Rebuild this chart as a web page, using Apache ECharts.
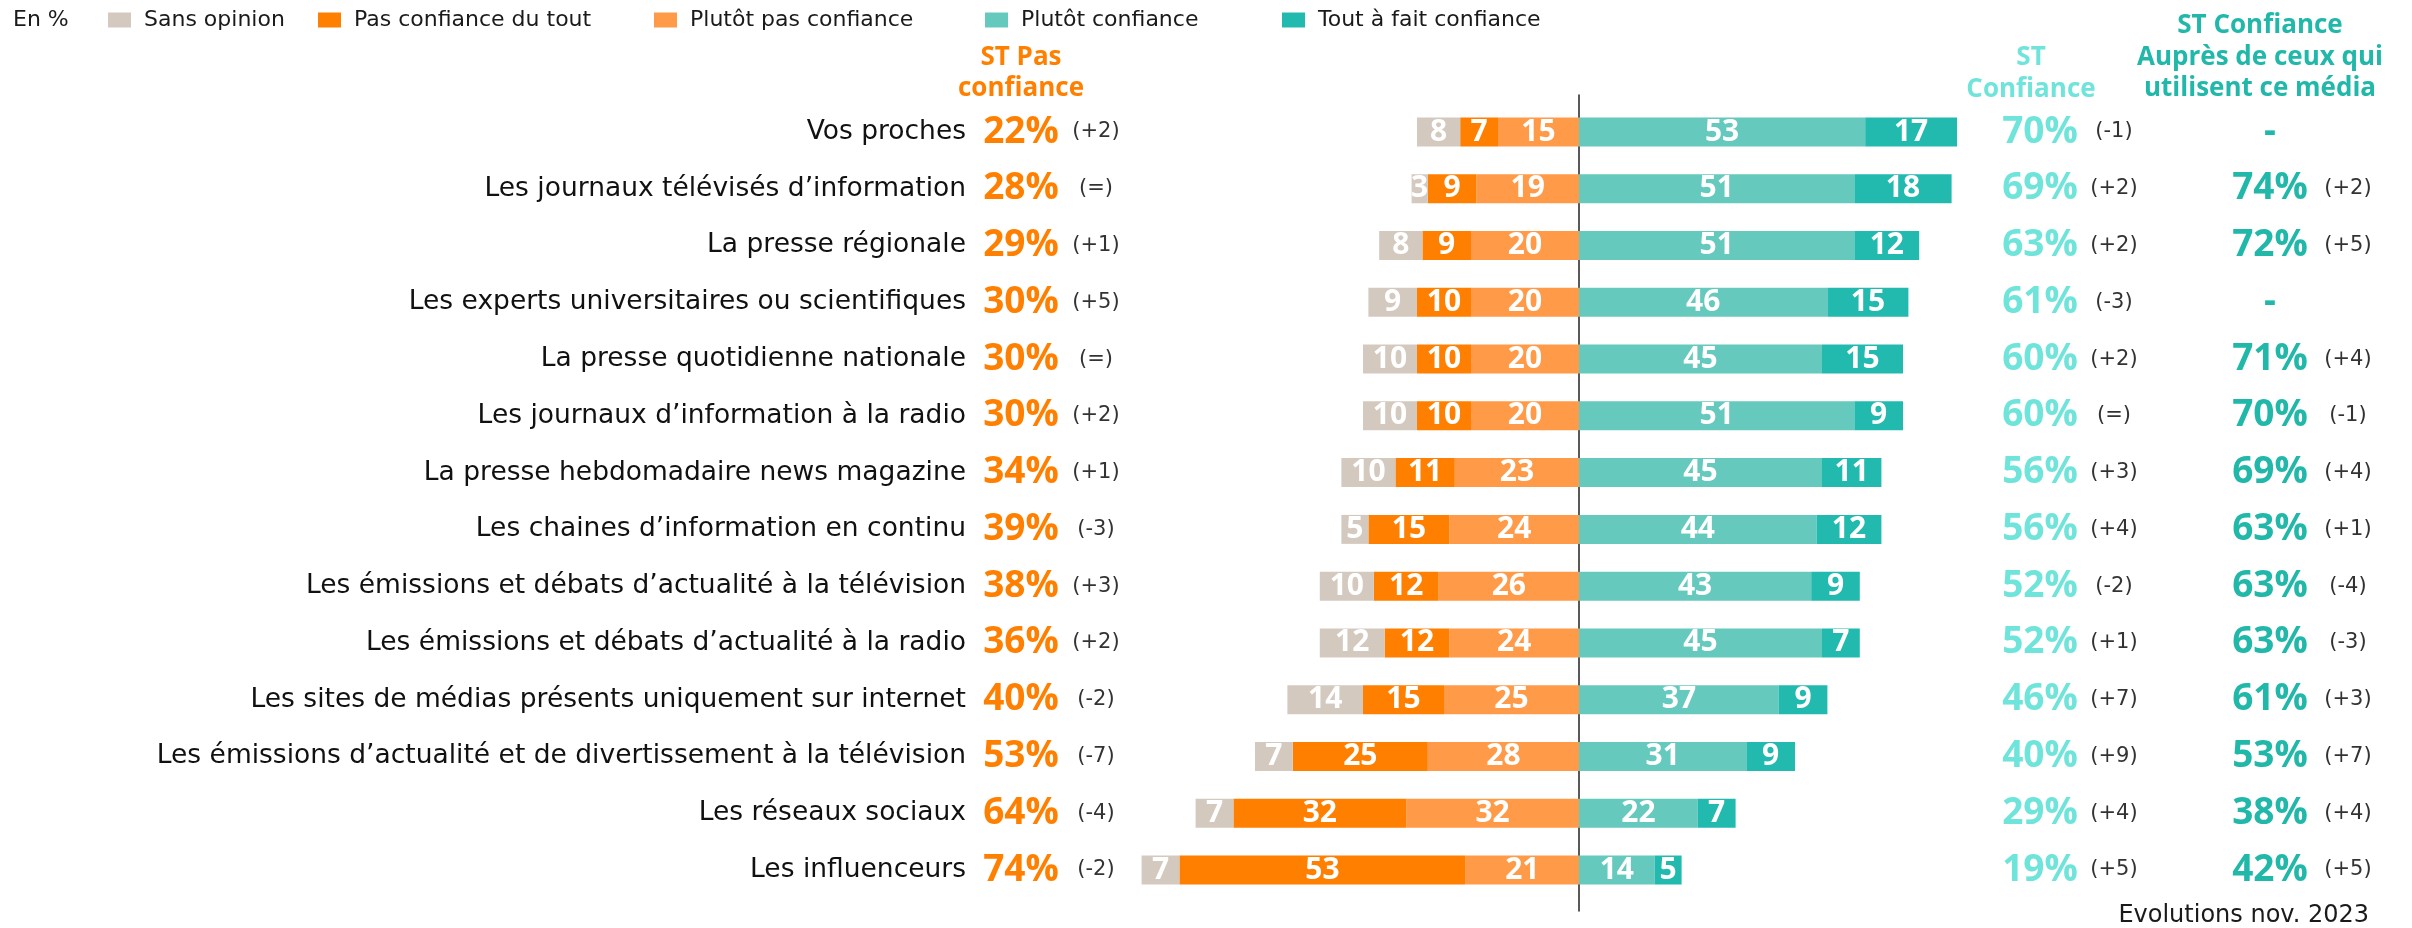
<!DOCTYPE html>
<html>
<head>
<meta charset="utf-8">
<script src="https://cdn.jsdelivr.net/npm/echarts@6/dist/echarts.min.js"></script>
<style>
html,body{margin:0;padding:0;background:#fff;}
#chart{width:2412px;height:928px;}
</style>
</head>
<body>
<div id="chart"></div>
<script>
const categories = [
  "Vos proches",
  "Les journaux télévisés d’information",
  "La presse régionale",
  "Les experts universitaires ou scientifiques",
  "La presse quotidienne nationale",
  "Les journaux d’information à la radio",
  "La presse hebdomadaire news magazine",
  "Les chaines d’information en continu",
  "Les émissions et débats d’actualité à la télévision",
  "Les émissions et débats d’actualité à la radio",
  "Les sites de médias présents uniquement sur internet",
  "Les émissions d’actualité et de divertissement à la télévision",
  "Les réseaux sociaux",
  "Les influenceurs"
];
const sansOpinion = [8, 3, 8, 9, 10, 10, 10, 5, 10, 12, 14, 7, 7, 7];
const pasDuTout   = [7, 9, 9, 10, 10, 10, 11, 15, 12, 12, 15, 25, 32, 53];
const plutotPas   = [15, 19, 20, 20, 20, 20, 23, 24, 26, 24, 25, 28, 32, 21];
const plutotConf  = [53, 51, 51, 46, 45, 51, 45, 44, 43, 45, 37, 31, 22, 14];
const toutAFait   = [17, 18, 12, 15, 15, 9, 11, 12, 9, 7, 9, 9, 7, 5];
const stPas       = [22, 28, 29, 30, 30, 30, 34, 39, 38, 36, 40, 53, 64, 74];
const stPasEvol   = ["(+2)", "(=)", "(+1)", "(+5)", "(=)", "(+2)", "(+1)", "(-3)", "(+3)", "(+2)", "(-2)", "(-7)", "(-4)", "(-2)"];
const stConf      = [70, 69, 63, 61, 60, 60, 56, 56, 52, 52, 46, 40, 29, 19];
const stConfEvol  = ["(-1)", "(+2)", "(+2)", "(-3)", "(+2)", "(=)", "(+3)", "(+4)", "(-2)", "(+1)", "(+7)", "(+9)", "(+4)", "(+5)"];
const stUsers     = [null, 74, 72, null, 71, 70, 69, 63, 63, 63, 61, 53, 38, 42];
const stUsersEvol = ["", "(+2)", "(+5)", "", "(+4)", "(-1)", "(+4)", "(+1)", "(-4)", "(-3)", "(+3)", "(+7)", "(+4)", "(+5)"];
const legendNames = ["Sans opinion", "Pas confiance du tout", "Plutôt pas confiance", "Plutôt confiance", "Tout à fait confiance"];

const COL = {
  so: '#D3C9BF', pdt: '#FF7F00', pp: '#FF9A48', pc: '#66C9BE', taf: '#22BAAE',
  orange: '#FF8000', light: '#6EE4DA', dark: '#21B8AA', delta: '#333333'
};
const LABEL_FONT = '"DejaVu Sans", sans-serif';
const NUM_FONT = '"Open Sans", sans-serif';

const chart = echarts.init(document.getElementById('chart'), null, {renderer: 'canvas'});

const GRID_LEFT = 1093, GRID_RIGHT = 401;

function barSeries(name, data, color, neg) {
  return {
    name: name, type: 'bar', stack: 'all', barWidth: 29,
    xAxisIndex: 0, yAxisIndex: 0,
    data: neg ? data.map(v => -v) : data,
    itemStyle: {color: color},
    label: {
      show: true, position: 'inside', color: '#fff',
      fontFamily: NUM_FONT, fontWeight: 'bold', fontSize: 30,
      formatter: p => Math.abs(p.value)
    },
    emphasis: {disabled: true}
  };
}

function colAxis(position, offset, formatter, font, size, weight, color) {
  return {
    type: 'category', gridIndex: 0, data: categories, inverse: true,
    position: position, offset: offset,
    axisLine: {show: false, onZero: false}, axisTick: {show: false}, splitLine: {show: false},
    axisLabel: {
      show: true, interval: 0, margin: 0, align: 'center',
      fontFamily: font, fontSize: size, fontWeight: weight, color: color,
      formatter: formatter
    }
  };
}

const legendLefts = [108, 318, 654, 985, 1282];
const legendColors = [COL.so, COL.pdt, COL.pp, COL.pc, COL.taf];
const legends = legendNames.map((n, i) => ({
  data: [n], left: legendLefts[i], top: 9, padding: 0,
  icon: 'rect', itemWidth: 23, itemHeight: 15, selectedMode: false,
  textStyle: {fontFamily: LABEL_FONT, fontSize: 22, color: '#1a1a1a', padding: [0, 0, 0, 8]}
}));

const option = {
  animation: false,
  backgroundColor: '#fff',
  color: legendColors,
  legend: legends,
  grid: [
    {left: GRID_LEFT, right: GRID_RIGHT, top: 103.6, bottom: 29.6, containLabel: false, outerBoundsMode: 'none'},
    {left: GRID_LEFT, right: GRID_RIGHT, top: 95, bottom: 17, containLabel: false, outerBoundsMode: 'none'}
  ],
  xAxis: [
    {type: 'value', gridIndex: 0, min: -90, max: 80, show: false},
    {type: 'value', gridIndex: 1, min: -90, max: 80, show: false}
  ],
  yAxis: [
    {
      type: 'category', gridIndex: 0, data: categories, inverse: true, position: 'left',
      axisLine: {show: false, onZero: false}, axisTick: {show: false}, splitLine: {show: false},
      axisLabel: {show: true, interval: 0, margin: GRID_LEFT - 966, align: 'right',
        fontFamily: LABEL_FONT, fontSize: 26.5, color: '#111'}
    },
    colAxis('left', GRID_LEFT - 1021, (v, i) => stPas[i] + '%', NUM_FONT, 37, 'bold', COL.orange),
    colAxis('left', GRID_LEFT - 1096, (v, i) => stPasEvol[i], LABEL_FONT, 21, 'normal', COL.delta),
    colAxis('right', 2040 - (2412 - GRID_RIGHT), (v, i) => stConf[i] + '%', NUM_FONT, 37, 'bold', COL.light),
    colAxis('right', 2114 - (2412 - GRID_RIGHT), (v, i) => stConfEvol[i], LABEL_FONT, 21, 'normal', COL.delta),
    colAxis('right', 2270 - (2412 - GRID_RIGHT), (v, i) => stUsers[i] == null ? '-' : stUsers[i] + '%', NUM_FONT, 37, 'bold', COL.dark),
    colAxis('right', 2348 - (2412 - GRID_RIGHT), (v, i) => stUsersEvol[i], LABEL_FONT, 21, 'normal', COL.delta),
    {
      type: 'value', gridIndex: 1, min: 0, max: 1, show: true,
      axisLine: {show: true, onZero: true, lineStyle: {color: '#222', width: 1.5}},
      axisTick: {show: false}, axisLabel: {show: false}, splitLine: {show: false}
    }
  ],
  series: [
    barSeries(legendNames[2], plutotPas, COL.pp, true),
    barSeries(legendNames[1], pasDuTout, COL.pdt, true),
    barSeries(legendNames[0], sansOpinion, COL.so, true),
    barSeries(legendNames[3], plutotConf, COL.pc, false),
    barSeries(legendNames[4], toutAFait, COL.taf, false)
  ],
  graphic: [
    {type: 'text', x: 13, y: 20.5, style: {text: 'En %', font: '22px "DejaVu Sans"', fill: '#1a1a1a', align: 'left', verticalAlign: 'middle'}},
    {type: 'text', x: 1021, y: 73, style: {text: 'ST Pas\nconfiance', font: 'bold 26px "Open Sans"', fill: COL.orange, align: 'center', verticalAlign: 'middle', lineHeight: 31}},
    {type: 'text', x: 2031, y: 74, style: {text: 'ST\nConfiance', font: 'bold 26px "Open Sans"', fill: COL.light, align: 'center', verticalAlign: 'middle', lineHeight: 32}},
    {type: 'text', x: 2260, y: 57.5, style: {text: 'ST Confiance\nAuprès de ceux qui\nutilisent ce média', font: 'bold 26px "Open Sans"', fill: COL.dark, align: 'center', verticalAlign: 'middle', lineHeight: 31.5}},
    {type: 'text', x: 2369, y: 916, style: {text: 'Evolutions nov. 2023', font: '24px "DejaVu Sans"', fill: '#1a1a1a', align: 'right', verticalAlign: 'middle'}}
  ]
};
chart.setOption(option);
</script>
</body>
</html>
